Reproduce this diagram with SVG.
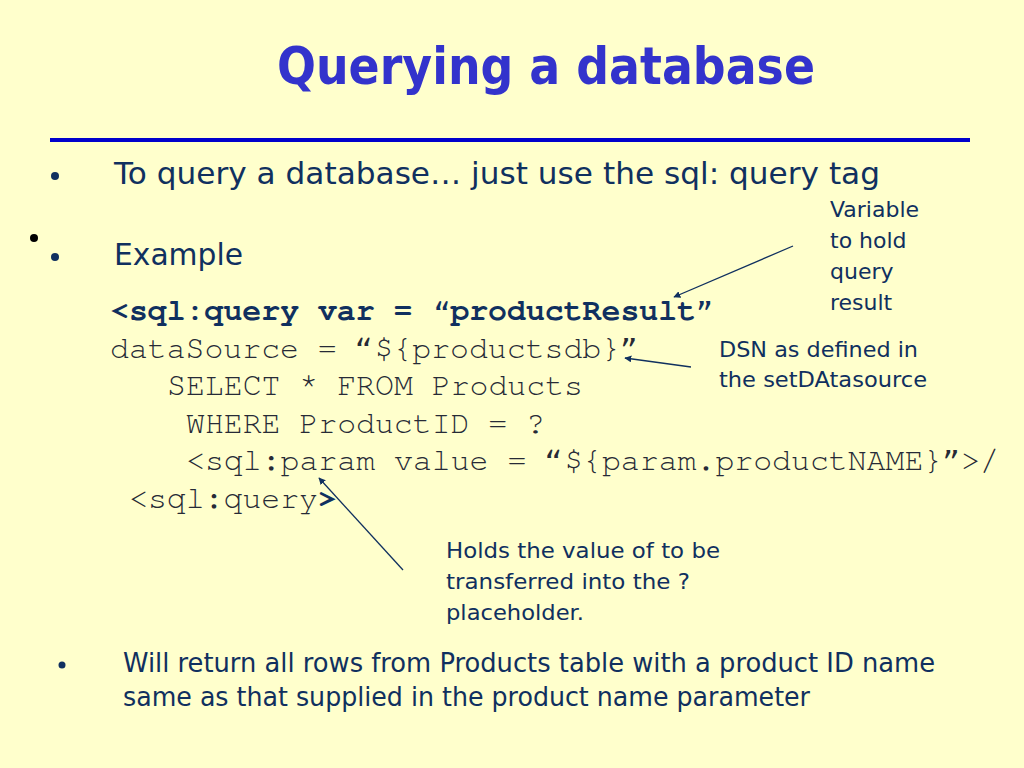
<svg xmlns="http://www.w3.org/2000/svg" width="1024" height="768" viewBox="0 0 1024 768">
<defs>
<style>
.t{font-family:"DejaVu Sans","Noto Sans",sans-serif;fill:#10305f}
.title{font-family:"DejaVu Sans","Noto Sans",sans-serif;font-weight:bold;fill:#3333cc;font-size:52px}
.code{font-family:"Nimbus Mono PS","FreeMono","Courier New","Liberation Mono",monospace;font-size:31.5px;fill:#262a36}
.codeb{font-family:"Nimbus Mono PS","FreeMono","Courier New","Liberation Mono",monospace;font-size:31.5px;font-weight:bold;fill:#10305f}
.conn{stroke:#10305f;stroke-width:1.3;fill:none;marker-end:url(#ah)}
</style>
<marker id="ah" viewBox="0 0 10 10" refX="9" refY="5" markerWidth="7" markerHeight="7" orient="auto" markerUnits="userSpaceOnUse">
<path d="M0,0 L10,5 L0,10 z" fill="#10305f"/>
</marker>
</defs>
<rect width="1024" height="768" fill="#ffffcc"/>
<g id="title">
<text class="title" x="277" y="84" textLength="538" lengthAdjust="spacingAndGlyphs">Querying a database</text>
<line x1="50" y1="140" x2="970" y2="140" stroke="#0000cc" stroke-width="4"/>
</g>
<g id="bullets">
<circle cx="55" cy="176" r="4" fill="#10305f"/>
<text class="t" x="114" y="184" font-size="31" textLength="766" lengthAdjust="spacingAndGlyphs">To query a database…  just use the sql: query  tag</text>
<circle cx="34" cy="238" r="4" fill="#000"/>
<circle cx="55" cy="257" r="4" fill="#10305f"/>
<text class="t" x="114" y="265" font-size="31" textLength="129" lengthAdjust="spacingAndGlyphs">Example</text>
</g>
<g id="code">
<text class="codeb" x="110" y="320" textLength="605" lengthAdjust="spacingAndGlyphs">&lt;sql:query var = “productResult”</text>
<text class="code" x="110" y="358" textLength="529" lengthAdjust="spacingAndGlyphs">dataSource = “${productsdb}”</text>
<text class="code" x="167" y="395" textLength="416" lengthAdjust="spacingAndGlyphs">SELECT * FROM Products</text>
<text class="code" x="186" y="433" textLength="359" lengthAdjust="spacingAndGlyphs">WHERE ProductID = ?</text>
<text class="code" x="186" y="470" textLength="813" lengthAdjust="spacingAndGlyphs">&lt;sql:param value = “${param.productNAME}”&gt;/</text>
<text class="code" x="129" y="508">&lt;sql:query<tspan class="codeb">&gt;</tspan></text>
</g>
<g id="note-variable">
<text class="t" font-size="22" x="830" y="217">Variable</text>
<text class="t" font-size="22" x="830" y="248">to hold</text>
<text class="t" font-size="22" x="830" y="279">query</text>
<text class="t" font-size="22" x="830" y="310">result</text>
</g>
<g id="note-dsn">
<text class="t" font-size="22" x="719" y="357" textLength="199" lengthAdjust="spacingAndGlyphs">DSN as defined in</text>
<text class="t" font-size="22" x="719" y="387" textLength="208" lengthAdjust="spacingAndGlyphs">the setDAtasource</text>
</g>
<g id="note-holds">
<text class="t" font-size="21" x="446" y="558" textLength="274" lengthAdjust="spacingAndGlyphs">Holds the value of to be</text>
<text class="t" font-size="21" x="446" y="589" textLength="244" lengthAdjust="spacingAndGlyphs">transferred into the ?</text>
<text class="t" font-size="21" x="446" y="620" textLength="138" lengthAdjust="spacingAndGlyphs">placeholder.</text>
</g>
<g id="connectors">
<line class="conn" x1="793" y1="246" x2="674" y2="297"/>
<line class="conn" x1="691" y1="367" x2="625" y2="358"/>
<line class="conn" x1="403" y1="570" x2="319" y2="478"/>
</g>
<g id="summary">
<circle cx="62" cy="665" r="3.5" fill="#10305f"/>
<text class="t" x="123" y="672" font-size="26" textLength="812" lengthAdjust="spacingAndGlyphs">Will return all rows from Products table with a product ID name</text>
<text class="t" x="123" y="706" font-size="26" textLength="687" lengthAdjust="spacingAndGlyphs">same as that supplied in the product name parameter</text>
</g>
</svg>
